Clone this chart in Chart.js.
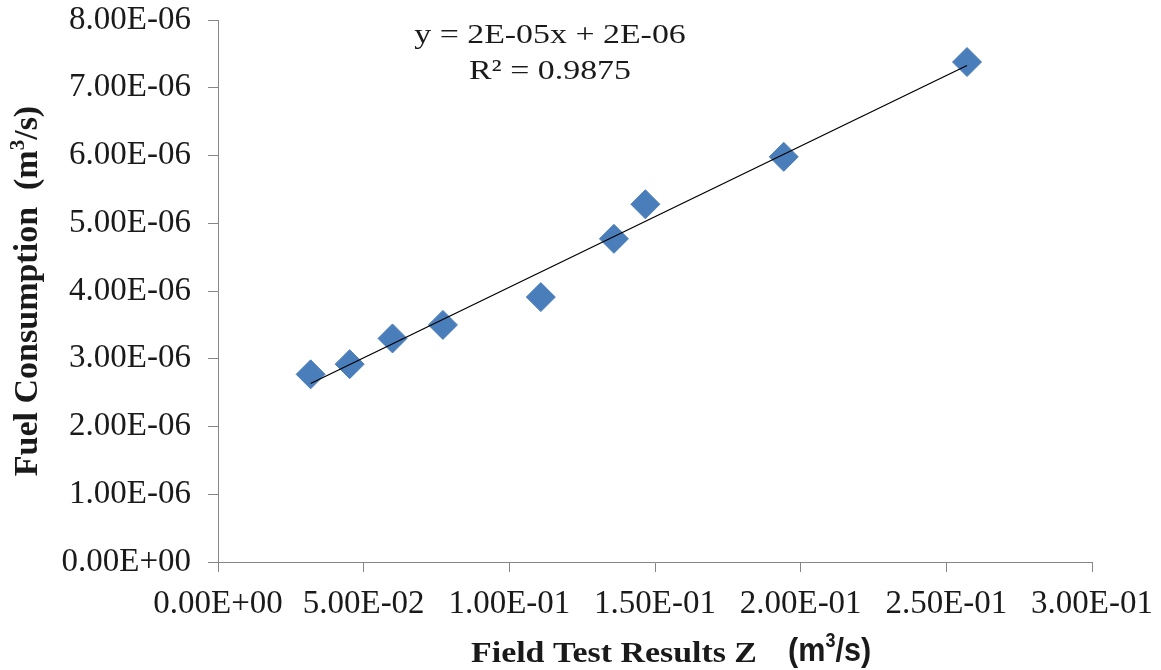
<!DOCTYPE html>
<html>
<head>
<meta charset="utf-8">
<script src="https://cdn.jsdelivr.net/npm/chart.js@4"></script>
<style>
  html, body { margin: 0; padding: 0; background: #fff; }
  #wrap { width: 1161px; height: 670px; }
</style>
</head>
<body>
<div id="wrap"><canvas id="chart" width="1161" height="670"></canvas></div>
<script>
// Field test results Z (m3/s) vs. fuel consumption (m3/s)
const fieldZ = [0.0318, 0.0452, 0.0599, 0.0772, 0.1108, 0.1359, 0.1467, 0.1942, 0.2571];
const fuelUse = [2.77e-6, 2.92e-6, 3.30e-6, 3.50e-6, 3.91e-6, 4.77e-6, 5.28e-6, 5.98e-6, 7.38e-6];

const xTicks = { min: 0, max: 0.3, step: 0.05 };
const yTicks = { min: 0, max: 8e-6, step: 1e-6 };

const equationLines = ['y = 2E-05x + 2E-06', 'R\u00b2 = 0.9875'];

// Excel style number format, e.g. 5.00E-02
function sci(v) {
  if (Math.abs(v) < 1e-15) return '0.00E+00';
  const [m, e] = v.toExponential(2).split('e');
  const n = parseInt(e, 10);
  return m + 'E' + (n < 0 ? '-' : '+') + String(Math.abs(n)).padStart(2, '0');
}

// linear least-squares trendline through the points
function linearFit(xs, ys) {
  const n = xs.length;
  const mx = xs.reduce((a, b) => a + b, 0) / n;
  const my = ys.reduce((a, b) => a + b, 0) / n;
  let sxy = 0, sxx = 0;
  for (let i = 0; i < n; i++) {
    sxy += (xs[i] - mx) * (ys[i] - my);
    sxx += (xs[i] - mx) * (xs[i] - mx);
  }
  const slope = sxy / sxx;
  return { slope, intercept: my - slope * mx };
}

const fit = linearFit(fieldZ, fuelUse);
const xLo = Math.min(...fieldZ);
const xHi = Math.max(...fieldZ);
const trend = [
  { x: xLo, y: fit.intercept + fit.slope * xLo },
  { x: xHi, y: fit.intercept + fit.slope * xHi }
];
const points = fieldZ.map((x, i) => ({ x, y: fuelUse[i] }));

const AXIS_GREY = '#868686';
const TEXT = '#1a1a1a';
const SERIF = '"Liberation Serif", "Times New Roman", serif';

// titles and the trendline label, drawn by hand so fonts can be mixed
const textPlugin = {
  id: 'textPlugin',
  afterDraw(chart) {
    const ctx = chart.ctx;
    ctx.save();
    ctx.fillStyle = TEXT;
    ctx.textBaseline = 'alphabetic';

    // equation box
    ctx.font = '28px ' + SERIF;
    ctx.textAlign = 'center';
    [[equationLines[0], 43], [equationLines[1], 79]].forEach(([t, y]) => {
      ctx.save();
      ctx.translate(550, y);
      ctx.scale(1.21, 1);
      ctx.fillText(t, 0, 0);
      ctx.restore();
    });

    // x axis title
    ctx.textAlign = 'left';
    ctx.save();
    ctx.translate(471, 662);
    ctx.scale(1.13, 1);
    ctx.font = 'bold 30px ' + SERIF;
    ctx.fillText('Field Test Results Z', 0, 0);
    ctx.restore();

    ctx.save();
    ctx.translate(788, 661);
    ctx.scale(0.9, 1);
    let x = 0;
    ctx.font = 'bold 34px "Liberation Sans", Arial, sans-serif';
    ctx.fillText('(m', x, 0);
    x += ctx.measureText('(m').width;
    ctx.font = 'bold 20px "Liberation Sans", Arial, sans-serif';
    ctx.fillText('3', x, -14);
    x += ctx.measureText('3').width;
    ctx.font = 'bold 34px "Liberation Sans", Arial, sans-serif';
    ctx.fillText('/s)', x, 0);
    ctx.restore();

    // y axis title, rotated
    ctx.save();
    ctx.translate(37, 291);
    ctx.rotate(-Math.PI / 2);
    const parts = [
      ['Fuel Consumption  (m', 'bold 34px ' + SERIF, 0],
      ['3', 'bold 21px ' + SERIF, -13],
      ['/s)', 'bold 34px ' + SERIF, 0]
    ];
    let total = 0;
    parts.forEach(([t, f]) => { ctx.font = f; total += ctx.measureText(t).width; });
    let px = -total / 2;
    parts.forEach(([t, f, dy]) => {
      ctx.font = f;
      ctx.fillText(t, px, dy);
      px += ctx.measureText(t).width;
    });
    ctx.restore();

    ctx.restore();
  }
};

new Chart(document.getElementById('chart'), {
  type: 'scatter',
  data: {
    datasets: [
      {
        type: 'line',
        label: 'Linear fit',
        data: trend,
        borderColor: '#000000',
        borderWidth: 1.3,
        pointRadius: 0,
        fill: false,
        order: 0
      },
      {
        label: 'Fuel consumption',
        data: points,
        pointStyle: 'rectRot',
        pointRadius: 14.5,
        pointHoverRadius: 14.5,
        backgroundColor: '#4a7ebb',
        borderColor: '#4a7ebb',
        borderWidth: 1,
        order: 1
      }
    ]
  },
  options: {
    responsive: false,
    animation: false,
    layout: {
      padding: { left: 0, top: 20, right: 69, bottom: 0 }
    },
    scales: {
      x: {
        type: 'linear',
        min: xTicks.min,
        max: xTicks.max,
        // fixed plot box: ignore the label overhang chart.js wants to reserve
        afterFit: (scale) => {
          scale.height = 108;
          scale.paddingLeft = 0;
          scale.paddingRight = 0;
        },
        border: { display: true, color: AXIS_GREY, width: 1 },
        grid: {
          drawOnChartArea: false,
          drawTicks: true,
          tickLength: 10,
          color: AXIS_GREY
        },
        ticks: {
          stepSize: xTicks.step,
          color: TEXT,
          font: { family: SERIF, size: 33 },
          padding: 13,
          maxRotation: 0,
          autoSkip: false,
          callback: (v) => sci(v)
        }
      },
      y: {
        type: 'linear',
        min: yTicks.min,
        max: yTicks.max,
        afterFit: (scale) => {
          scale.width = 218;
          scale.paddingTop = 0;
          scale.paddingBottom = 0;
        },
        border: { display: true, color: AXIS_GREY, width: 1 },
        grid: {
          drawOnChartArea: false,
          drawTicks: true,
          tickLength: 10,
          color: AXIS_GREY
        },
        ticks: {
          stepSize: yTicks.step,
          color: TEXT,
          font: { family: SERIF, size: 33 },
          padding: 17,
          autoSkip: false,
          callback: (v) => sci(v)
        }
      }
    },
    plugins: {
      legend: { display: false },
      tooltip: { enabled: false }
    }
  },
  plugins: [textPlugin]
});
</script>
</body>
</html>
